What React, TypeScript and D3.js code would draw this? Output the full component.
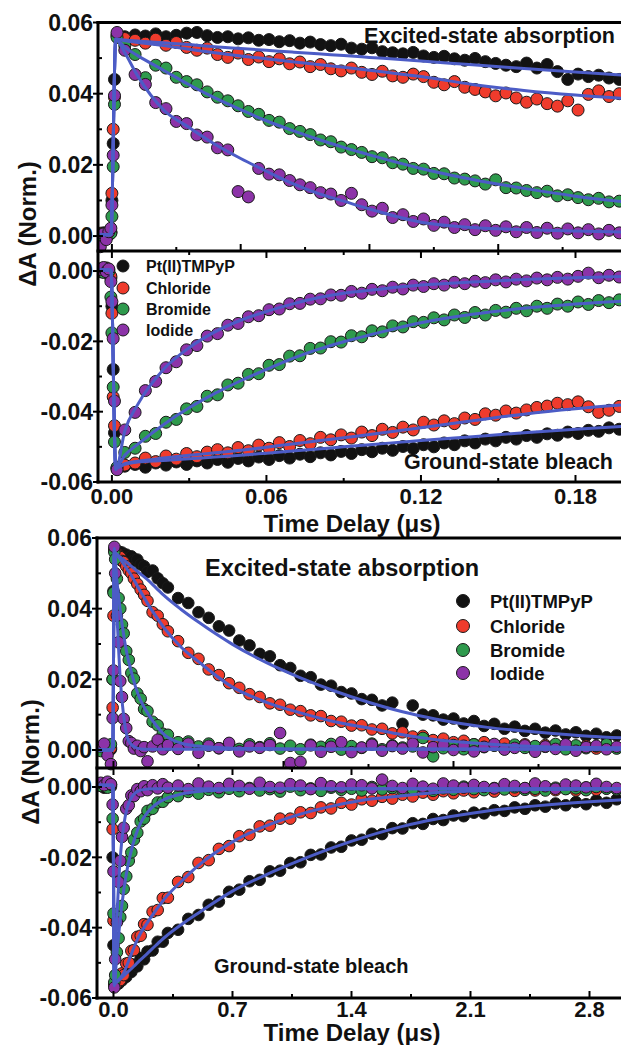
import React from 'react'
import * as d3 from 'd3'

// all ΔA values below are in units of 1e-3 (normalised); tick labels show the real numbers
const FONT = "'Liberation Sans', Arial, Helvetica, sans-serif"
const seriesNames = ['Pt(II)TMPyP', 'Chloride', 'Bromide', 'Iodide']
const seriesColors = ['#121212', '#ef3b2c', '#2e9a4d', '#8c33a8']
const fitColor = '#4c5cc6'

// ---------- figure A : 0 - 0.2 us ----------
const timesA = [-0.0045, -0.0033, -0.0022, -0.0012, -0.0004, 0, 0.0005, 0.001, 0.002,
  0.005, 0.009, 0.013, 0.017, 0.021, 0.025, 0.029, 0.033, 0.037, 0.041,
  0.045, 0.049, 0.053, 0.057, 0.061, 0.065, 0.069, 0.073, 0.077, 0.081,
  0.085, 0.089, 0.093, 0.097, 0.101, 0.105, 0.109, 0.113, 0.117, 0.121,
  0.125, 0.129, 0.133, 0.137, 0.141, 0.145, 0.149, 0.153, 0.157, 0.161,
  0.165, 0.169, 0.173, 0.177, 0.181, 0.185, 0.189, 0.193, 0.197]

const esaABlack = [0.3, 0.9, -0.3, 0.6, 1.0, 10.0, 26.0, 44.0, 56.6, 56.0, 56.5, 56.2, 56.8, 56.0, 56.4, 57.0, 57.2, 56.3, 55.8, 56.0, 55.4, 55.7, 55.0, 55.2, 54.6, 54.9, 54.2, 54.5, 53.8, 53.5, 53.9, 52.8, 52.5, 52.9, 51.8, 51.5, 51.2, 51.6, 50.6, 50.2, 50.5, 49.8, 49.4, 49.9, 49.0, 48.5, 48.0, 47.6, 48.6, 47.2, 48.2, 46.2, 44.0, 45.5, 44.8, 45.2, 44.4, 44.0]
const esaARed = [0.8, 0.2, -0.4, 0.5, 1.2, 12.0, 30.0, 39.0, 56.2, 55.5, 55.0, 54.2, 55.3, 53.6, 54.4, 53.0, 52.2, 52.8, 51.0, 50.2, 51.4, 49.6, 50.3, 49.0, 49.8, 48.4, 48.9, 47.6, 48.2, 47.0, 46.4, 47.2, 46.0, 45.4, 46.3, 45.0, 44.6, 45.5, 44.8, 43.2, 42.5, 43.4, 41.8, 41.2, 40.5, 39.4, 40.2, 38.8, 37.6, 38.5, 37.2, 36.5, 38.0, 35.4, 39.8, 40.8, 39.2, 40.0]
const esaAGreen = [0.5, -0.6, 0.9, 0.3, 0.8, 5.5, 19.5, 37.0, 55.8, 53.5, 51.0, 44.5, 48.0, 47.2, 44.6, 43.4, 42.5, 40.5, 39.0, 38.0, 36.6, 35.0, 34.2, 32.5, 32.0, 30.2, 29.4, 28.5, 27.0, 26.5, 25.0, 24.3, 23.5, 22.3, 22.0, 20.6, 20.2, 19.0, 18.8, 17.6, 17.5, 16.3, 16.0, 15.5, 14.6, 15.8, 13.6, 13.5, 12.8, 12.2, 12.6, 11.3, 11.6, 10.8, 10.2, 10.6, 9.6, 9.8]
const esaAPurple = [-3.0, 0.6, -1.0, 1.2, 2.2, 8.7, 22.7, 39.5, 57.2, 52.2, 45.4, 42.6, 37.5, 35.8, 32.2, 31.6, 28.4, 27.8, 24.8, 24.2, 12.5, 11.0, 19.0, 17.4, 17.2, 15.6, 14.4, 13.6, 12.2, 11.8, 10.0, 12.0, 8.8, 7.0, 7.8, 5.2, 6.0, 4.1, 4.8, 3.0, 3.9, 2.4, 3.2, 1.8, 2.9, 1.6, 2.6, 1.2, 2.4, 1.0, 2.2, 0.8, 2.0, 0.9, 1.8, 0.6, 1.6, 0.9]

const gsbABlack = [-0.2, 0.5, 0.2, -0.3, -2.0, -10.0, -28.0, -46.0, -56.2, -55.5, -55.0, -55.8, -54.6, -55.2, -54.3, -55.0, -54.0, -54.6, -53.6, -54.4, -53.3, -54.0, -52.9, -53.6, -52.5, -53.2, -52.1, -52.8, -51.7, -52.3, -51.3, -51.9, -50.8, -51.4, -50.4, -51.0, -49.9, -50.5, -49.4, -50.0, -48.9, -49.4, -48.3, -48.9, -47.8, -48.3, -47.3, -47.8, -46.8, -47.3, -46.3, -46.7, -45.8, -46.2, -45.3, -45.6, -44.6, -45.0]
const gsbARed = [0.6, 0.1, 0.9, 0.3, -1.5, -12.0, -35.8, -44.0, -56.0, -55.2, -54.6, -53.2, -54.2, -52.6, -53.5, -51.9, -52.8, -51.5, -50.8, -51.7, -50.2, -51.1, -49.5, -50.4, -48.8, -49.9, -48.2, -49.1, -47.3, -48.0, -46.6, -47.5, -45.8, -46.8, -45.0, -45.9, -44.4, -45.2, -43.0, -43.8, -42.6, -43.4, -41.8, -42.2, -40.6, -41.0, -39.8, -40.4, -39.5, -38.8, -38.4, -37.6, -38.0, -37.2, -38.6, -40.2, -39.6, -38.5]
const gsbAGreen = [0.2, -0.4, 0.7, -0.1, -7.4, -17.6, -33.0, -48.6, -55.8, -51.6, -50.4, -47.0, -46.2, -43.0, -42.2, -39.2, -38.5, -35.6, -35.2, -32.4, -31.9, -29.4, -29.2, -26.8, -26.6, -24.2, -24.1, -22.0, -21.9, -20.1, -20.2, -18.4, -18.7, -17.0, -17.3, -15.6, -15.9, -14.4, -14.6, -13.3, -13.9, -12.5, -13.2, -11.8, -12.5, -11.2, -11.7, -10.6, -11.3, -10.0, -10.6, -9.4, -10.0, -8.8, -9.5, -8.4, -9.0, -8.2]
const gsbAPurple = [0.4, 1.0, -0.2, 0.6, -3.0, -8.7, -19.2, -37.0, -56.5, -45.2, -40.2, -34.0, -31.4, -27.5, -25.8, -22.4, -21.2, -18.5, -17.8, -15.4, -14.9, -13.0, -12.7, -11.0, -10.8, -9.3, -9.2, -8.0, -7.9, -6.8, -6.9, -5.8, -6.3, -5.2, -5.6, -4.6, -5.1, -4.0, -4.4, -3.6, -4.0, -3.2, -3.6, -2.9, -3.3, -2.5, -3.1, -2.3, -2.8, -2.0, -2.5, -1.8, -2.3, -1.5, -0.6, -1.9, -1.2, -1.7]

const fitTimesA = [-0.0054, -0.0004, 0.0015, 0.005, 0.01, 0.02, 0.03, 0.04, 0.05, 0.06, 0.07, 0.08, 0.09, 0.1, 0.12, 0.14, 0.16, 0.18, 0.2]
const fitEsaABlack = [0.4, 0.4, 55.3, 55.1, 54.8, 54.3, 53.8, 53.2, 52.7, 52.2, 51.7, 51.2, 50.7, 50.2, 49.2, 48.1, 47.1, 46.1, 45.1]
const fitEsaARed = [0.4, 0.4, 55.3, 54.9, 54.4, 53.5, 52.5, 51.5, 50.6, 49.8, 49.0, 48.2, 47.4, 46.6, 44.8, 42.6, 40.9, 39.6, 38.6]
const fitEsaAGreen = [0.4, 0.4, 55.3, 53.0, 50.7, 46.6, 42.5, 38.8, 35.5, 32.4, 29.7, 27.2, 24.9, 22.8, 19.0, 15.9, 13.4, 11.2, 9.5]
const fitEsaAPurple = [0.4, 0.4, 55.3, 51.5, 45.0, 35.5, 30.5, 25.8, 21.8, 18.2, 14.8, 12.0, 9.8, 7.6, 3.9, 2.4, 1.8, 1.4, 1.1]
const fitGsbABlack = [0.3, 0.3, -56.0, -55.0, -54.3, -53.9, -53.4, -52.9, -52.4, -51.8, -51.2, -50.6, -50.0, -49.4, -48.2, -47.1, -46.0, -45.0, -44.1]
const fitGsbARed = [0.3, 0.3, -56.0, -54.8, -54.1, -53.2, -52.4, -51.7, -51.0, -50.1, -49.2, -48.3, -47.4, -46.5, -44.6, -42.6, -40.7, -39.2, -38.0]
const fitGsbAGreen = [0.3, 0.3, -56.0, -52.4, -49.3, -43.7, -38.9, -34.8, -31.2, -28.0, -24.9, -22.3, -20.1, -18.2, -14.7, -12.3, -10.6, -9.4, -8.5]
const fitGsbAPurple = [0.3, 0.3, -56.5, -45.5, -38.0, -28.0, -21.8, -17.3, -14.0, -11.5, -9.4, -7.6, -6.3, -5.5, -4.0, -3.1, -2.4, -1.9, -1.5]

const xTicksA = [0, 0.06, 0.12, 0.18]
const xTickLabelsA = ['0.00', '0.06', '0.12', '0.18']
const xMinorA = [0.03, 0.09, 0.15]
const upperTicksA = [0, 0.05, 0.1, 0.15]
const upperMinorA = [0.025, 0.075, 0.125, 0.175]

// ---------- figure B : 0 - 3 us ----------
const timesB = [-0.075, -0.055, -0.035, -0.015, -0.005, 0, 0.005,
  0.01, 0.02, 0.03, 0.04, 0.05, 0.06, 0.075, 0.09, 0.105, 0.12, 0.14, 0.16, 0.18, 0.2, 0.23, 0.26, 0.29, 0.32,
  0.38, 0.44, 0.5, 0.56, 0.62, 0.68, 0.74, 0.8, 0.86, 0.92,
  0.98, 1.04, 1.1, 1.16, 1.22, 1.28, 1.34, 1.4, 1.46, 1.52,
  1.58, 1.64, 1.7, 1.76, 1.82, 1.88, 1.94, 2.0, 2.06, 2.12,
  2.18, 2.24, 2.3, 2.36, 2.42, 2.48, 2.54, 2.6, 2.66, 2.72,
  2.78, 2.84, 2.9, 2.96]

const esaBBlack = [0.5, -0.3, 0.8, 0.2, 20.0, 45.0, 56.8, 56.5, 55.8, 56.2, 55.4, 55.9, 55.0, 55.3, 54.4, 54.8, 53.6, 53.9, 52.5, 52.0, 50.4, 50.8, 48.6, 47.2, 46.0, 43.0, 41.6, 39.0, 37.4, 35.0, 33.8, 31.0, 29.6, 27.2, 26.5, 24.0, 23.2, 21.0, 20.6, 18.5, 18.2, 16.4, 16.0, 14.4, 14.2, 12.6, 13.4, 7.4, 12.6, 10.0, 9.8, 8.6, 8.9, 7.5, 8.2, 6.8, 7.4, 6.0, 6.6, 5.4, 6.0, 4.9, 5.5, 4.4, 5.0, 4.0, 4.6, 3.6, 4.1]
const esaBRed = [0.2, 0.9, -0.4, 0.6, 12.0, 38.0, 56.5, 56.0, 55.6, 55.0, 54.6, 53.5, 53.2, 52.0, 50.8, 50.0, 48.5, 47.0, 45.4, 43.9, 42.2, 39.0, 38.0, 35.6, 33.6, 30.8, 27.5, 25.8, 22.8, 21.2, 18.9, 17.6, 15.8, 15.0, 13.2, 12.8, 11.4, 11.0, 9.8, 9.6, 8.2, 8.0, 6.9, 7.0, 5.8, 6.0, 4.7, 5.0, 3.8, 4.0, 2.8, 3.2, 2.2, 2.6, 1.6, 2.2, 1.3, 1.8, 1.0, 1.6, 0.8, 1.4, 0.6, 1.3, 0.5, 1.2, 0.4, 1.0, 0.6]
const esaBGreen = [-0.3, 1.2, 0.4, 1.6, 20.0, 44.5, 56.0, 54.0, 48.5, 43.0, 40.0, 35.5, 33.0, 28.0, 25.5, 21.8, 20.2, 16.0, 14.5, 11.6, 11.0, 8.0, 7.0, 4.6, 4.3, 2.2, 2.4, 1.0, 1.8, 0.5, 1.5, 0.3, 1.6, 0.8, 1.9, 0.4, 1.2, 0.2, 1.5, 0.9, 1.7, 0.1, 1.1, 0.6, 1.8, 0.2, 1.3, 0.7, 1.0, 3.4, -1.8, 0.5, 1.4, 0.2, 1.6, 0.8, 1.2, 0.3, 1.5, 0.6, 1.1, 0.9, 1.7, 0.2, 1.3, 0.5, 1.0, 1.6, 0.4]
const esaBPurple = [1.0, 1.8, -1.5, -4.0, 9.0, 22.5, 57.5, 50.0, 38.0, 30.5, 19.5, 15.0, 8.8, 6.2, 2.5, 2.0, 0.4, 1.2, -0.3, 0.8, -3.2, 1.0, 2.9, 0.2, 1.4, 0.3, 1.8, -0.8, 1.2, 0.5, 2.0, -0.4, 1.0, 0.6, 1.4, 4.8, -3.7, -3.4, 1.3, -0.5, 0.9, 2.2, -0.6, 0.7, 1.5, -0.2, 1.1, 0.4, 1.8, -0.7, 0.8, 1.4, 0.0, 1.2, -0.4, 0.9, 1.7, 0.1, 0.6, 1.3, -0.5, 1.0, 0.3, 1.6, -0.2, 0.8, 1.2, 0.2, 0.9]

const gsbBBlack = [0.4, -0.2, 0.6, 0.1, -20.0, -45.0, -56.5, -56.5, -55.0, -55.9, -54.2, -55.0, -53.2, -54.0, -52.0, -52.6, -50.5, -51.0, -48.6, -49.0, -46.8, -46.5, -44.0, -44.0, -41.5, -40.6, -37.5, -36.4, -33.5, -32.6, -29.8, -29.2, -26.8, -26.4, -24.0, -23.8, -21.6, -21.4, -19.3, -19.2, -17.2, -17.0, -15.2, -15.0, -13.3, -13.4, -11.7, -11.8, -10.3, -10.5, -9.1, -9.4, -8.1, -8.3, -7.3, -7.5, -6.6, -6.8, -5.8, -6.2, -5.2, -5.6, -4.7, -5.2, -4.3, -4.9, -3.8, -4.5, -3.5]
const gsbBRed = [0.8, 0.2, 1.1, 0.5, -12.0, -38.0, -56.0, -56.0, -55.8, -54.5, -54.9, -53.0, -53.5, -50.2, -50.0, -46.6, -46.4, -42.6, -42.3, -39.0, -39.2, -35.5, -35.0, -31.6, -31.5, -27.0, -25.6, -21.6, -20.8, -17.6, -16.8, -14.0, -13.6, -11.2, -11.0, -9.0, -9.0, -7.2, -7.4, -5.8, -6.1, -4.5, -5.0, -3.5, -3.9, -2.8, -3.3, -2.2, -2.7, -1.6, -2.2, -1.2, -1.8, -1.0, -1.5, -0.6, -1.3, -0.5, -1.1, -0.4, -1.0, -0.3, -0.9, -0.5, -1.0, -0.2, -0.8, -0.4, -0.7]
const gsbBGreen = [0.3, 1.0, -0.2, 0.7, -9.0, -36.0, -55.5, -53.5, -47.0, -43.0, -37.0, -33.8, -29.0, -25.4, -21.0, -18.6, -15.0, -13.0, -9.8, -9.0, -6.8, -6.2, -4.4, -4.2, -2.9, -2.6, -1.4, -1.9, -0.8, -1.5, -0.5, -1.2, -0.3, -1.0, -0.6, -1.3, 0.1, -0.9, -0.4, -1.1, -0.2, -0.8, -0.5, -1.0, 0.0, -0.7, -0.3, -0.9, -0.6, -0.2, -1.1, -0.4, -0.8, 0.1, -0.6, -0.9, -0.3, -0.7, -0.1, -0.8, -0.5, -1.0, -0.2, -0.6, -0.4, -0.9, 0.0, -0.5, -0.7]
const gsbBPurple = [1.2, 0.5, 1.5, 0.8, -5.0, -24.0, -57.0, -49.0, -38.5, -27.0, -21.0, -14.2, -11.6, -6.2, -5.2, -2.4, -2.6, -0.6, -1.2, 0.2, -0.9, 0.5, -0.4, 0.8, -0.2, 0.4, -0.6, 1.0, 0.1, -0.3, 0.9, 0.3, -0.5, 1.2, 0.0, -0.2, 0.8, 0.4, -0.6, 1.1, 0.2, -0.1, 0.7, 0.5, -0.4, 2.1, 0.3, -0.3, 0.9, 0.1, -0.5, 1.0, 0.4, -0.2, 0.6, 0.0, -0.4, 0.8, 0.3, -0.3, 1.0, 0.2, -0.5, 0.7, 0.4, -0.1, 0.9, 0.0, -0.3]

const fitTimesB = [-0.097, -0.004, 0.005, 0.02, 0.04, 0.06, 0.08, 0.1, 0.13, 0.16, 0.2, 0.25, 0.3, 0.4, 0.5, 0.7, 0.9, 1.1, 1.3, 1.5, 1.7, 1.9, 2.2, 2.5, 2.8, 3.0]
const fitEsaBBlack = [0.0, 0.0, 56.0, 55.4, 54.6, 53.8, 53.0, 52.2, 51.0, 49.8, 48.2, 45.9, 43.6, 39.7, 36.2, 29.9, 24.7, 20.4, 16.7, 13.5, 10.8, 8.7, 6.4, 5.0, 3.9, 3.4]
const fitEsaBRed = [0.0, 0.0, 56.0, 55.2, 54.0, 52.6, 51.2, 49.8, 47.3, 44.8, 41.5, 37.8, 34.4, 29.0, 25.0, 17.8, 13.5, 10.5, 8.0, 6.2, 4.3, 2.9, 1.7, 1.0, 0.7, 0.6]
const fitEsaBGreen = [0.0, 0.0, 56.5, 48.0, 39.5, 32.5, 27.0, 23.0, 17.8, 14.0, 10.5, 7.0, 4.3, 1.9, 1.1, 0.5, 0.4, 0.3, 0.3, 0.3, 0.3, 0.3, 0.3, 0.3, 0.3, 0.3]
const fitEsaBPurple = [0.0, 0.0, 57.0, 39.0, 20.0, 9.5, 3.8, 1.8, 0.7, 0.3, 0.2, 0.2, 0.2, 0.2, 0.2, 0.2, 0.2, 0.2, 0.2, 0.2, 0.2, 0.2, 0.2, 0.2, 0.2, 0.2]
const fitGsbBBlack = [0.5, 0.5, -56.0, -55.4, -54.6, -53.7, -52.8, -51.9, -50.5, -49.1, -47.3, -45.0, -42.8, -39.1, -35.8, -29.6, -24.9, -20.8, -17.1, -13.9, -11.2, -9.1, -6.8, -5.3, -4.2, -3.6]
const fitGsbBRed = [0.5, 0.5, -56.0, -55.3, -54.3, -52.9, -50.6, -48.1, -44.5, -41.5, -38.5, -35.0, -31.8, -26.8, -22.3, -15.6, -11.0, -7.7, -5.3, -3.5, -2.5, -1.6, -1.0, -0.7, -0.6, -0.6]
const fitGsbBGreen = [0.5, 0.5, -56.0, -47.5, -37.5, -29.5, -23.5, -19.0, -13.8, -10.2, -7.2, -4.9, -3.5, -2.0, -1.3, -0.8, -0.6, -0.5, -0.5, -0.5, -0.5, -0.5, -0.5, -0.5, -0.5, -0.5]
const fitGsbBPurple = [0.5, 0.5, -56.5, -37.5, -20.0, -11.0, -6.0, -3.5, -1.6, -0.9, -0.6, -0.5, -0.5, -0.5, -0.5, -0.5, -0.5, -0.5, -0.5, -0.5, -0.5, -0.5, -0.5, -0.5, -0.5, -0.5]

const xTicksB = [0, 0.7, 1.4, 2.1, 2.8]
const xTickLabelsB = ['0.0', '0.7', '1.4', '2.1', '2.8']
const xMinorB = [0.35, 1.05, 1.75, 2.45]
const upperTicksB = [0, 1, 2, 3]
const upperMinorB = [0.5, 1.5, 2.5]

const esaTicks = [0, 20, 40, 60]
const esaTickLabels = ['0.00', '0.02', '0.04', '0.06']
const esaMinor = [10, 30, 50]
const gsbTicks = [0, -20, -40, -60]
const gsbTickLabels = ['0.00', '-0.02', '-0.04', '-0.06']
const gsbMinor = [-10, -30, -50]

type Scale = d3.ScaleLinear<number, number>

function Figure(props: {
  id: string
  x: Scale
  yEsa: Scale
  yGsb: Scale
  times: number[]
  esa: number[][]
  gsb: number[][]
  fitTimes: number[]
  fitEsa: number[][]
  fitGsb: number[][]
  xTicks: number[]
  xTickLabels: string[]
  xMinor: number[]
  upperTicks: number[]
  upperMinor: number[]
  r: number
  yLabelX: number
  yLabelY: number
  tickLabelY: number
  titleY: number
  esaText: { x: number; y: number; size: number; anchor: string }
  gsbText: { x: number; y: number; size: number; anchor: string }
  legend: { x: number; tx: number; rows: number[]; size: number; r: number }
}) {
  const { x, yEsa, yGsb } = props
  const left = x.range()[0]
  const right = x.range()[1]
  const top = yEsa.range()[1]
  const mid = yEsa.range()[0]
  const bottom = yGsb.range()[0]

  const fitLine = (y: Scale) =>
    d3.line<number>()
      .x((_, i) => x(props.fitTimes[i]))
      .y(v => y(v))
      .curve(d3.curveMonotoneX)

  const points = (y: Scale, sets: number[][], key: string) =>
    sets.map((vals, s) => (
      <g key={`${key}${s}`}>
        {vals.map((v, i) => (
          <circle key={i} cx={x(props.times[i])} cy={y(v)} r={props.r}
            fill={seriesColors[s]} stroke="#1a1a1a" strokeWidth={1} />
        ))}
      </g>
    ))

  const textStyle = { fontFamily: FONT, fontWeight: 700 as const, fill: '#111' }

  return (
    <g>
      <defs>
        <clipPath id={props.id}>
          <rect x={left} y={top} width={right - left} height={bottom - top} />
        </clipPath>
      </defs>
      <g clipPath={`url(#${props.id})`}>
        {points(yEsa, props.esa, 'e')}
        {points(yGsb, props.gsb, 'g')}
        {props.fitEsa.map((f, s) => (
          <path key={`fe${s}`} d={fitLine(yEsa)(f) || ''} fill="none" stroke={fitColor} strokeWidth={3} />
        ))}
        {props.fitGsb.map((f, s) => (
          <path key={`fg${s}`} d={fitLine(yGsb)(f) || ''} fill="none" stroke={fitColor} strokeWidth={3} />
        ))}
      </g>

      {/* frame */}
      <g stroke="#000" strokeWidth={3} fill="none" strokeLinecap="square">
        <line x1={left} x2={right} y1={top} y2={top} />
        <line x1={left} x2={left} y1={top} y2={bottom} />
        <line x1={left} x2={right} y1={mid} y2={mid} />
        <line x1={left} x2={right} y1={bottom} y2={bottom} />
      </g>
      <g stroke="#000" strokeWidth={2}>
        {esaTicks.map(v => <line key={`ye${v}`} x1={left - 5} x2={left + 5} y1={yEsa(v)} y2={yEsa(v)} />)}
        {esaMinor.map(v => <line key={`yem${v}`} x1={left} x2={left + 4} y1={yEsa(v)} y2={yEsa(v)} />)}
        {gsbTicks.map(v => <line key={`yg${v}`} x1={left - 5} x2={left + 5} y1={yGsb(v)} y2={yGsb(v)} />)}
        {gsbMinor.map(v => <line key={`ygm${v}`} x1={left} x2={left + 4} y1={yGsb(v)} y2={yGsb(v)} />)}
        {props.xTicks.map(t => <line key={`xb${t}`} x1={x(t)} x2={x(t)} y1={bottom} y2={bottom - 7} />)}
        {props.xMinor.map(t => <line key={`xbm${t}`} x1={x(t)} x2={x(t)} y1={bottom} y2={bottom - 4} />)}
        {props.xTicks.map(t => <line key={`xd${t}`} x1={x(t)} x2={x(t)} y1={mid} y2={mid + 7} />)}
        {props.xMinor.map(t => <line key={`xdm${t}`} x1={x(t)} x2={x(t)} y1={mid} y2={mid + 4} />)}
        {props.upperTicks.map(t => <line key={`xu${t}`} x1={x(t)} x2={x(t)} y1={mid} y2={mid - 7} />)}
        {props.upperMinor.map(t => <line key={`xum${t}`} x1={x(t)} x2={x(t)} y1={mid} y2={mid - 4} />)}
      </g>

      {/* tick labels */}
      <g {...textStyle} fontSize={23} textAnchor="end">
        {esaTicks.map((v, i) => <text key={`le${v}`} x={left - 5} y={yEsa(v)} dy="0.36em">{esaTickLabels[i]}</text>)}
        {gsbTicks.map((v, i) => <text key={`lg${v}`} x={left - 5} y={yGsb(v)} dy="0.36em">{gsbTickLabels[i]}</text>)}
      </g>
      <g {...textStyle} fontSize={22} textAnchor="middle">
        {props.xTicks.map((t, i) => <text key={`lx${t}`} x={x(t)} y={props.tickLabelY}>{props.xTickLabels[i]}</text>)}
      </g>
      <text {...textStyle} fontSize={24} textAnchor="middle" x={352} y={props.titleY}>Time Delay (μs)</text>
      <text {...textStyle} fontSize={24} textAnchor="middle"
        transform={`translate(${props.yLabelX},${props.yLabelY}) rotate(-90)`}>ΔA (Norm.)</text>

      <text {...textStyle} fontSize={props.esaText.size} textAnchor={props.esaText.anchor}
        x={props.esaText.x} y={props.esaText.y}>Excited-state absorption</text>
      <text {...textStyle} fontSize={props.gsbText.size} textAnchor={props.gsbText.anchor}
        x={props.gsbText.x} y={props.gsbText.y}>Ground-state bleach</text>

      {/* legend */}
      {seriesNames.map((name, s) => (
        <g key={name}>
          <circle cx={props.legend.x} cy={props.legend.rows[s]} r={props.legend.r}
            fill={seriesColors[s]} stroke="#1a1a1a" strokeWidth={1} />
          <text {...textStyle} fontSize={props.legend.size} x={props.legend.tx} y={props.legend.rows[s]} dy="0.36em">{name}</text>
        </g>
      ))}
    </g>
  )
}

export default function App() {
  const xA = d3.scaleLinear().domain([-0.0054, 0.2]).range([98, 627])
  const yEsaA = d3.scaleLinear().domain([-4.2, 60]).range([251, 22.5])
  const yGsbA = d3.scaleLinear().domain([-60, 5.7]).range([482, 251])

  const xB = d3.scaleLinear().domain([-0.097, 3.0]).range([97, 623.5])
  const yEsaB = d3.scaleLinear().domain([-5.1, 60]).range([768, 538])
  const yGsbB = d3.scaleLinear().domain([-60, 5.4]).range([998, 768])

  return (
    <div style={{ position: 'absolute', left: 0, top: 0 }}>
      <svg width={621} height={1045} viewBox="0 0 621 1045" style={{ display: 'block', background: '#fff' }}>
        <Figure id="clipA" x={xA} yEsa={yEsaA} yGsb={yGsbA}
          times={timesA}
          esa={[esaABlack, esaARed, esaAGreen, esaAPurple]}
          gsb={[gsbABlack, gsbARed, gsbAGreen, gsbAPurple]}
          fitTimes={fitTimesA}
          fitEsa={[fitEsaABlack, fitEsaARed, fitEsaAGreen, fitEsaAPurple]}
          fitGsb={[fitGsbABlack, fitGsbARed, fitGsbAGreen, fitGsbAPurple]}
          xTicks={xTicksA} xTickLabels={xTickLabelsA} xMinor={xMinorA}
          upperTicks={upperTicksA} upperMinor={upperMinorA}
          r={6} yLabelX={36} yLabelY={224} tickLabelY={504} titleY={532}
          esaText={{ x: 615, y: 43, size: 21.5, anchor: 'end' }}
          gsbText={{ x: 613, y: 469, size: 21.5, anchor: 'end' }}
          legend={{ x: 123, tx: 146, rows: [266, 288, 309, 330], size: 16, r: 6 }}
        />
        <Figure id="clipB" x={xB} yEsa={yEsaB} yGsb={yGsbB}
          times={timesB}
          esa={[esaBBlack, esaBRed, esaBGreen, esaBPurple]}
          gsb={[gsbBBlack, gsbBRed, gsbBGreen, gsbBPurple]}
          fitTimes={fitTimesB}
          fitEsa={[fitEsaBBlack, fitEsaBRed, fitEsaBGreen, fitEsaBPurple]}
          fitGsb={[fitGsbBBlack, fitGsbBRed, fitGsbBGreen, fitGsbBPurple]}
          xTicks={xTicksB} xTickLabels={xTickLabelsB} xMinor={xMinorB}
          upperTicks={upperTicksB} upperMinor={upperMinorB}
          r={5.8} yLabelX={39} yLabelY={762} tickLabelY={1017} titleY={1041}
          esaText={{ x: 205, y: 576, size: 23.5, anchor: 'start' }}
          gsbText={{ x: 214, y: 973, size: 20, anchor: 'start' }}
          legend={{ x: 463, tx: 490, rows: [601, 626, 650, 673], size: 18.5, r: 6.5 }}
        />
      </svg>
    </div>
  )
}
